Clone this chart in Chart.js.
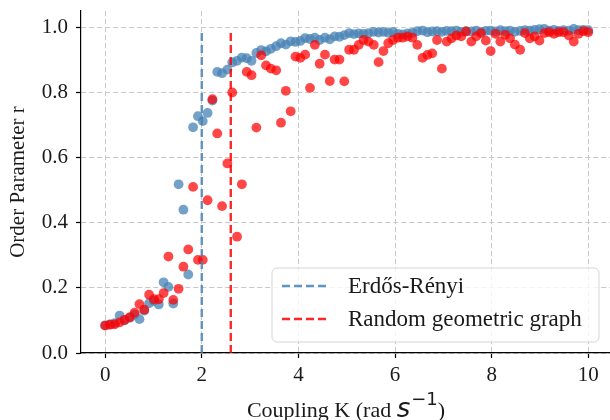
<!DOCTYPE html>
<html>
<head>
<meta charset="utf-8">
<script src="https://cdn.jsdelivr.net/npm/chart.js@4.4.1/dist/chart.umd.min.js"></script>
<style>
  html, body { margin: 0; padding: 0; background: #fff; }
  #wrap { width: 610px; height: 420px; }
</style>
</head>
<body>
<div id="wrap"><canvas id="chart" width="610" height="420"></canvas></div>
<script>
// Coupling strength K sampled on the same grid for both networks
const couplingK = [
  0.00, 0.10, 0.20, 0.30, 0.40, 0.51, 0.61, 0.71, 0.81, 0.91,
  1.01, 1.11, 1.21, 1.31, 1.41, 1.52, 1.62, 1.72, 1.82, 1.92,
  2.02, 2.12, 2.22, 2.32, 2.42, 2.53, 2.63, 2.73, 2.83, 2.93,
  3.03, 3.13, 3.23, 3.33, 3.43, 3.54, 3.64, 3.74, 3.84, 3.94,
  4.04, 4.14, 4.24, 4.34, 4.44, 4.55, 4.65, 4.75, 4.85, 4.95,
  5.05, 5.15, 5.25, 5.35, 5.45, 5.56, 5.66, 5.76, 5.86, 5.96,
  6.06, 6.16, 6.26, 6.36, 6.46, 6.57, 6.67, 6.77, 6.87, 6.97,
  7.07, 7.17, 7.27, 7.37, 7.47, 7.58, 7.68, 7.78, 7.88, 7.98,
  8.08, 8.18, 8.28, 8.38, 8.48, 8.59, 8.69, 8.79, 8.89, 8.99,
  9.09, 9.19, 9.29, 9.39, 9.49, 9.60, 9.70, 9.80, 9.90, 10.00,
];

// Order parameter r, Erdős-Rényi network
const rErdosRenyi = [
  0.085, 0.088, 0.092, 0.115, 0.100, 0.108, 0.118, 0.104, 0.130, 0.153,
  0.160, 0.149, 0.217, 0.203, 0.152, 0.518, 0.440, 0.241, 0.693, 0.727,
  0.712, 0.737, 0.775, 0.863, 0.859, 0.870, 0.892, 0.897, 0.907, 0.905,
  0.897, 0.921, 0.930, 0.926, 0.934, 0.942, 0.951, 0.947, 0.957, 0.955,
  0.958, 0.967, 0.964, 0.968, 0.961, 0.968, 0.963, 0.972, 0.971, 0.976,
  0.982, 0.979, 0.981, 0.980, 0.982, 0.986, 0.984, 0.986, 0.983, 0.986,
  0.980, 0.978, 0.981, 0.983, 0.988, 0.990, 0.985, 0.987, 0.988, 0.986,
  0.989, 0.988, 0.990, 0.986, 0.988, 0.987, 0.990, 0.986, 0.989, 0.990,
  0.987, 0.991, 0.988, 0.990, 0.986, 0.989, 0.991, 0.990, 0.992, 0.994,
  0.995, 0.990, 0.992, 0.989, 0.991, 0.990, 0.995, 0.991, 0.992, 0.991,
];

// Order parameter r, random geometric graph
const rGeometric = [
  0.084, 0.087, 0.088, 0.094, 0.102, 0.110, 0.124, 0.150, 0.133, 0.179,
  0.165, 0.165, 0.184, 0.296, 0.163, 0.197, 0.265, 0.318, 0.510, 0.286,
  0.286, 0.469, 0.779, 0.674, 0.451, 0.582, 0.800, 0.357, 0.518, 0.863,
  0.853, 0.692, 0.914, 0.883, 0.873, 0.868, 0.707, 0.805, 0.742, 0.910,
  0.906, 0.916, 0.814, 0.946, 0.888, 0.916, 0.835, 0.901, 0.901, 0.834,
  0.931, 0.931, 0.946, 0.961, 0.956, 0.946, 0.893, 0.927, 0.951, 0.961,
  0.968, 0.968, 0.972, 0.968, 0.946, 0.906, 0.915, 0.920, 0.961, 0.873,
  0.956, 0.966, 0.975, 0.972, 0.987, 0.956, 0.972, 0.982, 0.959, 0.927,
  0.980, 0.956, 0.977, 0.966, 0.947, 0.931, 0.982, 0.966, 0.972, 0.959,
  0.982, 0.985, 0.980, 0.985, 0.985, 0.975, 0.956, 0.980, 0.988, 0.985,
];

// critical couplings (dashed lines) and how high each line reaches
const seriesNames = ["Erdős-Rényi", "Random geometric graph"];
const criticalK = [2.0, 2.6];
const criticalTop = [0.985, 0.995];

const xTicks = [0, 2, 4, 6, 8, 10];
const yTicks = [0.0, 0.2, 0.4, 0.6, 0.8, 1.0];

const SERIF = "'Liberation Serif', 'Times New Roman', serif";
const BLUE = "rgba(70, 130, 180, 0.75)";
const RED = "rgba(255, 0, 0, 0.72)";

function points(ys) {
  return couplingK.map((k, i) => ({ x: k, y: ys[i] }));
}

function vline(i) {
  return [
    { x: criticalK[i], y: 0 },
    { x: criticalK[i], y: criticalTop[i] },
  ];
}

/** legend drawn inside the plot, lower right */
const legendBox = {
  id: "legendBox",
  afterDraw(chart) {
    const ctx = chart.ctx;
    const items = chart.data.datasets.filter((d) => d.inLegend);
    const x = 272, y = 268, w = 327, h = 74;
    ctx.save();
    ctx.beginPath();
    ctx.roundRect(x, y, w, h, 5);
    ctx.fillStyle = "rgba(255,255,255,0.8)";
    ctx.fill();
    ctx.strokeStyle = "#d6d6d6";
    ctx.lineWidth = 1;
    ctx.stroke();
    ctx.font = `23px ${SERIF}`;
    ctx.textBaseline = "middle";
    items.forEach((d, i) => {
      const cy = y + 18 + i * 33;
      ctx.strokeStyle = d.borderColor;
      ctx.lineWidth = d.borderWidth;
      ctx.setLineDash(d.borderDash);
      ctx.beginPath();
      ctx.moveTo(x + 10, cy);
      ctx.lineTo(x + 56, cy);
      ctx.stroke();
      ctx.setLineDash([]);
      ctx.fillStyle = "#1a1a1a";
      ctx.fillText(d.label, x + 76, cy + 1);
    });
    ctx.restore();
  },
};

/** x axis title with the s^-1 superscript */
const xTitle = {
  id: "xTitle",
  afterDraw(chart) {
    const { ctx, chartArea } = chart;
    const parts = [
      { text: "Coupling K (rad ", font: `22px ${SERIF}`, dy: 0 },
      { text: "s", font: "oblique 26px 'DejaVu Sans'", dy: 0 },
      { text: "\u22121", font: "18px 'DejaVu Sans'", dy: -12 },
      { text: ")", font: `22px ${SERIF}`, dy: 0 },
    ];
    ctx.save();
    ctx.fillStyle = "#1a1a1a";
    ctx.textBaseline = "alphabetic";
    let total = 0;
    parts.forEach((p) => {
      ctx.font = p.font;
      p.w = ctx.measureText(p.text).width;
      total += p.w;
    });
    let x = (chartArea.left + chartArea.right) / 2 - total / 2;
    const base = 417;
    parts.forEach((p) => {
      ctx.font = p.font;
      ctx.fillText(p.text, x, base + p.dy);
      x += p.w + (p.text === "s" ? 1 : 0);
    });
    ctx.restore();
  },
};

const ctx = document.getElementById("chart");

new Chart(ctx, {
  type: "scatter",
  data: {
    datasets: [
      {
        label: seriesNames[0] + " r",
        data: points(rErdosRenyi),
        backgroundColor: BLUE,
        borderWidth: 0,
        pointRadius: 4.9,
        order: 4,
      },
      {
        label: seriesNames[1] + " r",
        data: points(rGeometric),
        backgroundColor: RED,
        borderWidth: 0,
        pointRadius: 4.9,
        order: 3,
      },
      {
        label: seriesNames[0],
        inLegend: true,
        data: vline(0),
        showLine: true,
        pointRadius: 0,
        borderColor: "rgba(70, 130, 180, 0.85)",
        borderWidth: 2.4,
        borderDash: [8, 4],
        order: 2,
      },
      {
        label: seriesNames[1],
        inLegend: true,
        data: vline(1),
        showLine: true,
        pointRadius: 0,
        borderColor: "rgba(255, 0, 0, 0.85)",
        borderWidth: 2.4,
        borderDash: [8, 4],
        order: 1,
      },
    ],
  },
  options: {
    responsive: false,
    animation: false,
    devicePixelRatio: 1,
    layout: { autoPadding: false, padding: { left: 0, right: 0, top: 11, bottom: 0 } },
    plugins: {
      legend: { display: false },
      tooltip: { enabled: false },
    },
    scales: {
      x: {
        type: "linear",
        min: -0.5,
        max: 10.45,
        afterBuildTicks: (s) => {
          s.ticks = xTicks.map((v) => ({ value: v }));
        },
        afterFit: (s) => {
          s.height = 67;
          s.paddingLeft = 0;
          s.paddingRight = 0;
        },
        ticks: {
          font: { family: SERIF, size: 21 },
          color: "#1a1a1a",
          padding: 5,
          maxRotation: 0,
          callback: (v) => String(v),
        },
        grid: {
          color: "#c8c8c8",
          lineWidth: 1,
          tickLength: 5,
          tickColor: "#000",
          tickWidth: 1.2,
          tickBorderDash: [],
        },
        border: { display: true, color: "#000", width: 1.2, dash: [5, 3] },
      },
      y: {
        min: 0,
        max: 1.05,
        afterBuildTicks: (s) => {
          s.ticks = yTicks.map((v) => ({ value: v }));
        },
        afterFit: (s) => {
          s.width = 81;
          s.paddingTop = 0;
          s.paddingBottom = 0;
        },
        ticks: {
          font: { family: SERIF, size: 21 },
          color: "#1a1a1a",
          padding: 8,
          callback: (v) => v.toFixed(1),
        },
        grid: {
          color: "#c8c8c8",
          lineWidth: 1,
          tickLength: 5,
          tickColor: "#000",
          tickWidth: 1.2,
          tickBorderDash: [],
        },
        border: { display: true, color: "#000", width: 1.2, dash: [5, 3] },
        title: {
          display: true,
          text: "Order Parameter r",
          font: { family: SERIF, size: 21, lineHeight: 1 },
          color: "#1a1a1a",
          padding: { top: 8, bottom: 0 },
        },
      },
    },
  },
  plugins: [legendBox, xTitle],
});
</script>
</body>
</html>
